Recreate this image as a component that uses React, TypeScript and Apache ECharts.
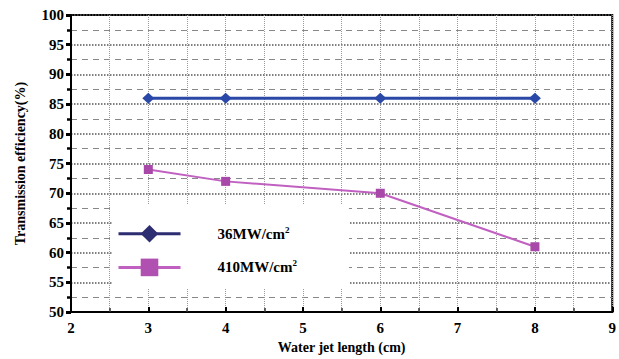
import React, { useEffect, useRef } from "react";
import * as echarts from "echarts";

const xValues = [3, 4, 6, 8];
const series36 = [86, 86, 86, 86];
const series410 = [74, 72, 70, 61];
const seriesNames = ["36MW/cm2", "410MW/cm2"];

const FONT = "'Liberation Serif', 'Times New Roman', serif";

export default function App() {
  const ref = useRef<HTMLDivElement>(null);
  useEffect(() => {
    if (!ref.current) return;
    const chart = echarts.init(ref.current, null, { renderer: "svg" });
    const mk = (ys: number[]) => xValues.map((x, i) => [x, ys[i]]);
    chart.setOption({
      animation: false,
      backgroundColor: "#fff",
      grid: {
        left: 71,
        top: 15,
        right: 6,
        bottom: 42,
        show: true,
        borderColor: "#000",
        borderWidth: 2,
        backgroundColor: "transparent",
      },
      legend: {
        left: 113,
        top: 205,
        orient: "vertical",
        backgroundColor: "#fff",
        padding: [20, 52, 12, 4],
        itemWidth: 62,
        itemHeight: 22,
        itemGap: 16,
        selectedMode: false,
        data: [
          {
            name: seriesNames[0],
            itemStyle: { color: "#2d2d72" },
            lineStyle: { color: "#2d2d72", width: 3 },
          },
          {
            name: seriesNames[1],
            itemStyle: { color: "#b050b0" },
            lineStyle: { color: "#c060c0", width: 3 },
          },
        ],
        formatter: (name: string) => `{a|${name.slice(0, -1)}}{s|2}`,
        textStyle: {
          rich: {
            a: {
              fontFamily: FONT,
              fontWeight: "bold",
              fontSize: 15,
              color: "#000",
              padding: [0, 0, 0, 32],
            },
            s: {
              fontFamily: FONT,
              fontWeight: "bold",
              fontSize: 9,
              color: "#000",
              verticalAlign: "bottom",
              padding: [0, 0, 8, 0],
            },
          },
        },
      },
      xAxis: {
        type: "value",
        min: 2,
        max: 9,
        interval: 1,
        name: "Water jet length (cm)",
        nameLocation: "middle",
        nameGap: 21,
        nameTextStyle: {
          fontFamily: FONT,
          fontWeight: "bold",
          fontSize: 14,
          color: "#000",
        },
        axisLine: { lineStyle: { color: "#000", width: 2 } },
        axisTick: {
          inside: true,
          length: 5,
          lineStyle: { color: "#000", width: 2 },
        },
        minorTick: {
          show: true,
          splitNumber: 2,
          length: 4,
          lineStyle: { color: "#333", width: 1.5 },
        },
        axisLabel: {
          margin: 8,
          fontFamily: FONT,
          fontWeight: "bold",
          fontSize: 15,
          color: "#000",
        },
        splitLine: {
          show: true,
          lineStyle: { color: "#999", width: 1, type: [1, 1] },
        },
        minorSplitLine: {
          show: true,
          lineStyle: { color: "#999", width: 1, type: [1, 1] },
        },
      },
      yAxis: {
        type: "value",
        min: 50,
        max: 100,
        interval: 5,
        name: "Transmission efficiency(%)",
        nameLocation: "middle",
        nameGap: 44,
        nameTextStyle: {
          fontFamily: FONT,
          fontWeight: "bold",
          fontSize: 14,
          color: "#000",
        },
        axisLine: { show: true, lineStyle: { color: "#000", width: 2 } },
        axisTick: {
          show: true,
          length: 5,
          lineStyle: { color: "#000", width: 3 },
        },
        minorTick: {
          show: true,
          splitNumber: 2,
          length: 4,
          lineStyle: { color: "#000", width: 2.5 },
        },
        axisLabel: {
          margin: 7,
          fontFamily: FONT,
          fontWeight: "bold",
          fontSize: 15,
          color: "#000",
        },
        splitLine: {
          show: true,
          lineStyle: { color: "#555", width: 1.5, type: [1.5, 1.5] },
        },
        minorSplitLine: {
          show: true,
          lineStyle: { color: "#888", width: 1.2, type: [6, 5] },
        },
      },
      series: [
        {
          name: seriesNames[0],
          type: "line",
          data: mk(series36),
          symbol: "diamond",
          symbolSize: [12, 11],
          itemStyle: { color: "#2a48a8" },
          lineStyle: { color: "#2a48a8", width: 3 },
          z: 3,
        },
        {
          name: seriesNames[1],
          type: "line",
          data: mk(series410),
          symbol: "rect",
          symbolSize: 9,
          itemStyle: { color: "#a848a8" },
          lineStyle: { color: "#c060c0", width: 2 },
          z: 3,
        },
      ],
    });
    return () => chart.dispose();
  }, []);
  return (
    <div
      ref={ref}
      style={{ position: "fixed", left: 0, top: 0, width: 619, height: 359 }}
    />
  );
}
